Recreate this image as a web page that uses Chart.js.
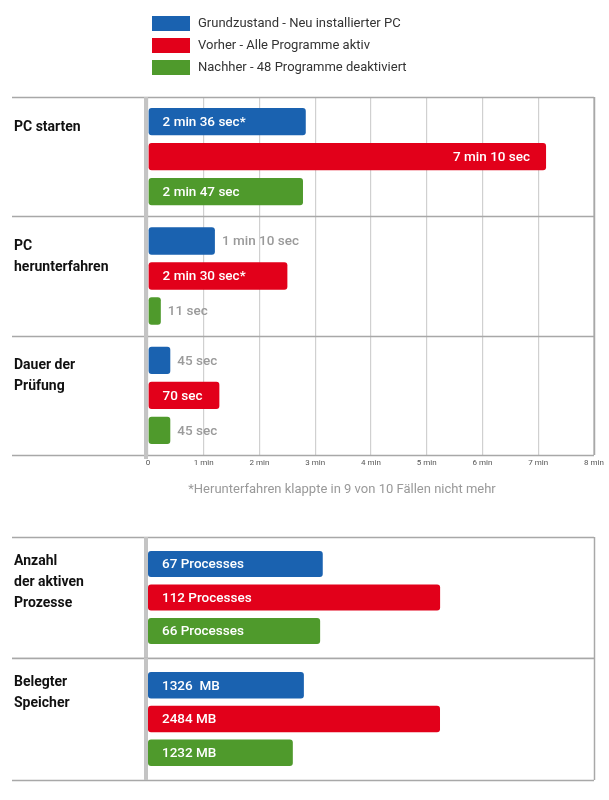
<!DOCTYPE html>
<html><head><meta charset="utf-8">
<script src="https://cdn.jsdelivr.net/npm/chart.js@4"></script>
<style>body{margin:0;background:#fff;width:609px;height:800px;position:relative;overflow:hidden}canvas{position:absolute;left:0}</style>
</head><body>
<canvas id="c1" style="top:0px" width="609" height="510"></canvas>
<canvas id="c2" style="top:536px" width="609" height="122"></canvas>
<canvas id="c3" style="top:657px" width="609" height="125"></canvas>
<script>
const seriesNames = ['Grundzustand - Neu installierter PC','Vorher - Alle Programme aktiv','Nachher - 48 Programme deaktiviert'];
const colors = ['#1a62b0','#e2001a','#4f9a2c'];
const timeCategories = [['PC starten'],['PC','herunterfahren'],['Dauer der','Prüfung']];
const timeGrund = [2.83, 1.2, 0.4];
const timeVorher = [7.14, 2.5, 1.28];
const timeNachher = [2.78, 0.23, 0.4];
const timeLabels = [['2 min 36 sec*','1 min 10 sec','45 sec'],['7 min 10 sec','2 min 30 sec*','70 sec'],['2 min 47 sec','11 sec','45 sec']];
const timeTicks = ['0','1 min','2 min','3 min','4 min','5 min','6 min','7 min','8 min'];
const procCategory = [['Anzahl','der aktiven','Prozesse']];
const procGrund = [67], procVorher = [112], procNachher = [66];
const procLabels = [['67 Processes'],['112 Processes'],['66 Processes']];
const memCategory = [['Belegter','Speicher']];
const memGrund = [1326], memVorher = [2484], memNachher = [1232];
const memLabels = [['1326  MB'],['2484 MB'],['1232 MB']];

const FONT = 'Roboto, "Open Sans", sans-serif';
const LINE = '#a8a8a8';

function labelPlugin(cats, labels, opts){
  return {id:'lab', afterDatasetsDraw(chart){
    const ctx=chart.ctx, ca=chart.chartArea, x=chart.scales.x;
    ctx.save();
    ctx.strokeStyle=LINE; ctx.lineWidth=1.5;
    const n=cats.length, step=(ca.bottom-ca.top)/n;
    for(let i=0;i<=n;i++){const yy=Math.round(ca.top+i*step)+0.5; ctx.beginPath(); ctx.moveTo(12,yy); ctx.lineTo(594,yy); ctx.stroke();}
    ctx.beginPath(); ctx.moveTo(594.5,ca.top); ctx.lineTo(594.5,ca.bottom); ctx.stroke();
    ctx.strokeStyle='#c4c4c4'; ctx.lineWidth=4; ctx.beginPath(); ctx.moveTo(146,ca.top); ctx.lineTo(146,ca.bottom+(opts.ticks?4:0)); ctx.stroke();
    ctx.fillStyle='#111'; ctx.font='bold 14px '+FONT; ctx.textBaseline='middle'; ctx.textAlign='left';
    cats.forEach((c,i)=>{c.forEach((t,j)=>ctx.fillText(t,14,ca.top+i*step+(opts.ticks?30:24)+j*21));});
    ctx.font='500 13.5px '+FONT;
    chart.data.datasets.forEach((ds,di)=>{
      chart.getDatasetMeta(di).data.forEach((bar,bi)=>{
        const txt=labels[di][bi]; const w=ctx.measureText(txt).width;
        if(bar.x-bar.base > w+20){
          ctx.fillStyle='#fff';
          if(bar.x-bar.base>360){ctx.textAlign='right'; ctx.fillText(txt,bar.x-16,bar.y+1);}
          else {ctx.textAlign='left'; ctx.fillText(txt,bar.base+14,bar.y+1);}
        } else {ctx.fillStyle='#9a9a9a'; ctx.textAlign='left'; ctx.fillText(txt,bar.x+7,bar.y+1);}
      });
    });
    if(opts.ticks){
      ctx.fillStyle='#555'; ctx.font='8px '+FONT; ctx.textAlign='center';
      opts.ticks.forEach((t,i)=>ctx.fillText(t,x.getPixelForValue(i),ca.bottom+8));
      ctx.fillStyle='#999'; ctx.font='13px '+FONT;
      ctx.fillText('*Herunterfahren klappte in 9 von 10 Fällen nicht mehr',342,ca.bottom+35);
    }
    if(opts.legend){
      ctx.font='13px '+FONT; ctx.textAlign='left';
      seriesNames.forEach((s,i)=>{const yy=16+i*22; ctx.fillStyle=colors[i]; ctx.fillRect(152,yy,38,15); ctx.fillStyle='#333'; ctx.fillText(s,198,yy+8);});
    }
    ctx.restore();
  }};
}

function make(id, cats, data, labels, max, pad, opts){
  new Chart(document.getElementById(id),{
    type:'bar',
    data:{labels:cats.map(c=>c.join(' ')), datasets:data.map((d,i)=>({label:seriesNames[i],data:d,backgroundColor:colors[i],borderRadius:3,borderSkipped:false,barPercentage:0.78,categoryPercentage:opts.cp}))},
    options:{indexAxis:'y',responsive:false,animation:false,
      layout:{padding:pad},
      plugins:{legend:{display:false},tooltip:{enabled:false}},
      scales:{
        x:{min:0,max:max,ticks:{display:false,stepSize:1},border:{display:false},
           grid:{display:!!opts.grid,color:'#d0d0d0',lineWidth:1.2,drawTicks:false}},
        y:{display:false}
      }},
    plugins:[labelPlugin(cats,labels,opts)]
  });
}
make('c1', timeCategories, [timeGrund,timeVorher,timeNachher], timeLabels, 8, {left:148,right:15,top:97,bottom:55}, {grid:true,ticks:timeTicks,legend:true,cp:0.88});
make('c2', procCategory, [procGrund,procVorher,procNachher], procLabels, 171, {left:148,right:15,top:1,bottom:0}, {cp:0.83});
make('c3', memCategory, [memGrund,memVorher,memNachher], memLabels, 3794, {left:148,right:15,top:1,bottom:2}, {cp:0.83});
</script>
</body></html>
